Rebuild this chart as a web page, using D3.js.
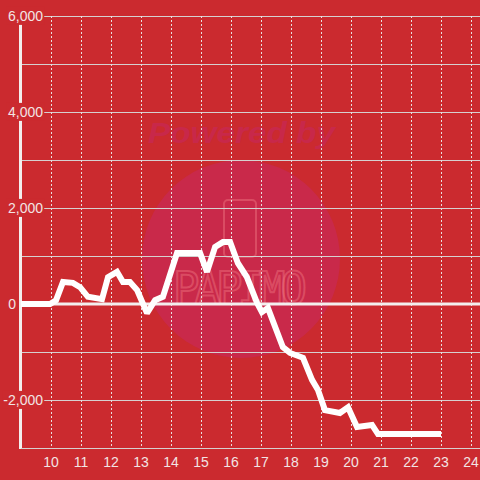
<!DOCTYPE html>
<html><head><meta charset="utf-8">
<script src="https://cdn.jsdelivr.net/npm/d3@7"></script>
<style>html,body{margin:0;padding:0;background:#cb2a2f;}svg{display:block;}</style>
</head><body>
<svg id="c" width="480" height="480"></svg>
<script>
// hours (decimal) and cumulative values
const hours = [9.0, 9.97, 10.17, 10.4, 10.73, 10.97, 11.23, 11.7, 11.9, 12.2, 12.4, 12.63, 12.87, 13.2, 13.47, 13.73, 14.2, 14.97, 15.2, 15.47, 15.73, 15.97, 16.23, 16.53, 16.87, 17.03, 17.23, 17.73, 17.97, 18.4, 18.7, 18.9, 19.13, 19.63, 19.9, 20.2, 20.7, 20.9, 23.0];
const values = [0, 0, 80, 460, 440, 350, 150, 100, 560, 670, 460, 460, 290, -190, 80, 150, 1060, 1060, 670, 1190, 1290, 1290, 850, 560, 20, -170, -80, -900, -1020, -1120, -1580, -1790, -2210, -2270, -2150, -2560, -2520, -2710, -2710];
const xTicks = [10, 11, 12, 13, 14, 15, 16, 17, 18, 19, 20, 21, 22, 23, 24];
const yLabelTicks = [6000, 4000, 2000, 0, -2000];
const yGridTicks = [6000, 5000, 4000, 3000, 2000, 1000, 0, -1000, -2000, -3000];

const svg = d3.select("#c");
const W = 480, H = 480;
const x = d3.scaleLinear().domain([9, 24.3]).range([21, 480]);
const y = d3.scaleLinear().domain([-3000, 6000]).range([448, 16]);
const FONT = "'Liberation Sans', Arial, sans-serif";

svg.append("rect").attr("width", W).attr("height", H).attr("fill", "#cb2a2f");

// watermark
const wm = svg.append("g");
wm.append("circle").attr("cx", 241).attr("cy", 259).attr("r", 99).attr("fill", "#c9294a");
wm.append("text").attr("x", 148).attr("y", 143).attr("textLength", 187).attr("lengthAdjust", "spacingAndGlyphs")
  .attr("font-family", FONT).attr("font-weight", "bold").attr("font-style", "italic")
  .attr("font-size", 30).attr("fill", "#c8284a").text("Powered by");
wm.append("rect").attr("x", 224).attr("y", 200).attr("width", 32).attr("height", 57).attr("rx", 4)
  .attr("fill", "none").attr("stroke", "rgba(240,120,130,0.45)").attr("stroke-width", 2);
wm.append("text").attr("x", 240).attr("y", 304).attr("text-anchor", "middle")
  .attr("font-family", "'DejaVu Sans Mono', monospace").attr("font-size", 44).attr("textLength", 134)
  .attr("fill", "none").attr("stroke", "rgba(240,120,130,0.45)").attr("stroke-width", 2).text("PAPIMO");

// horizontal grid
svg.append("g").selectAll("line").data(yGridTicks.filter(d => d !== 0)).join("line")
  .attr("x1", 21).attr("x2", 480).attr("y1", d => y(d)).attr("y2", d => y(d))
  .attr("stroke", "#d6d0d0").attr("stroke-width", 1).attr("shape-rendering", "crispEdges");

// vertical dotted grid
svg.append("g").selectAll("line").data(xTicks).join("line")
  .attr("x1", d => Math.round(x(d)) + 0.5).attr("x2", d => Math.round(x(d)) + 0.5).attr("y1", 16).attr("y2", 448)
  .attr("stroke", "#e8e0e0").attr("stroke-width", 1).attr("stroke-dasharray", "2,2");

// zero line
svg.append("line").attr("x1", 21).attr("x2", 480).attr("y1", y(0)).attr("y2", y(0))
  .attr("stroke", "#f3eeee").attr("stroke-width", 3);

// y axis line
svg.append("line").attr("x1", 20.5).attr("x2", 20.5).attr("y1", 16).attr("y2", 449)
  .attr("stroke", "#f3eeee").attr("stroke-width", 3);

// y labels with background (except 0)
const yl = svg.append("g").selectAll("g").data(yLabelTicks).join("g");
yl.each(function(d) {
  const g = d3.select(this);
  const t = g.append("text").attr("x", d === 0 ? 16 : 43).attr("y", y(d)).attr("dy", "0.35em").attr("text-anchor", "end")
    .attr("font-family", FONT).attr("font-size", 14).attr("fill", "#f2e4e4")
    .text(d3.format(",")(d).replace("−", "-"));
  if (d !== 0) {
    const b = t.node().getBBox();
    g.insert("rect", "text").attr("x", b.x - 1).attr("y", b.y - 1).attr("width", b.width + 2).attr("height", b.height + 2)
      .attr("fill", "#cb2a2f");
  }
});

// data line
const line = d3.line().x((d, i) => x(hours[i])).y(d => y(d)).curve(d3.curveLinear);
svg.append("path").datum(values).attr("d", line).attr("fill", "none")
  .attr("stroke", "#ffffff").attr("stroke-width", 6).attr("stroke-linejoin", "miter").attr("stroke-miterlimit", 2);

// x axis line
svg.append("line").attr("x1", 21).attr("x2", 480).attr("y1", 448.5).attr("y2", 448.5)
  .attr("stroke", "#d6d0d0").attr("stroke-width", 1);

// x labels
svg.append("g").selectAll("text").data(xTicks).join("text")
  .attr("x", d => x(d)).attr("y", 462).attr("dy", "0.35em").attr("text-anchor", "middle")
  .attr("font-family", FONT).attr("font-size", 14).attr("fill", "#f2e4e4")
  .text(d => d);
</script>
</body></html>
